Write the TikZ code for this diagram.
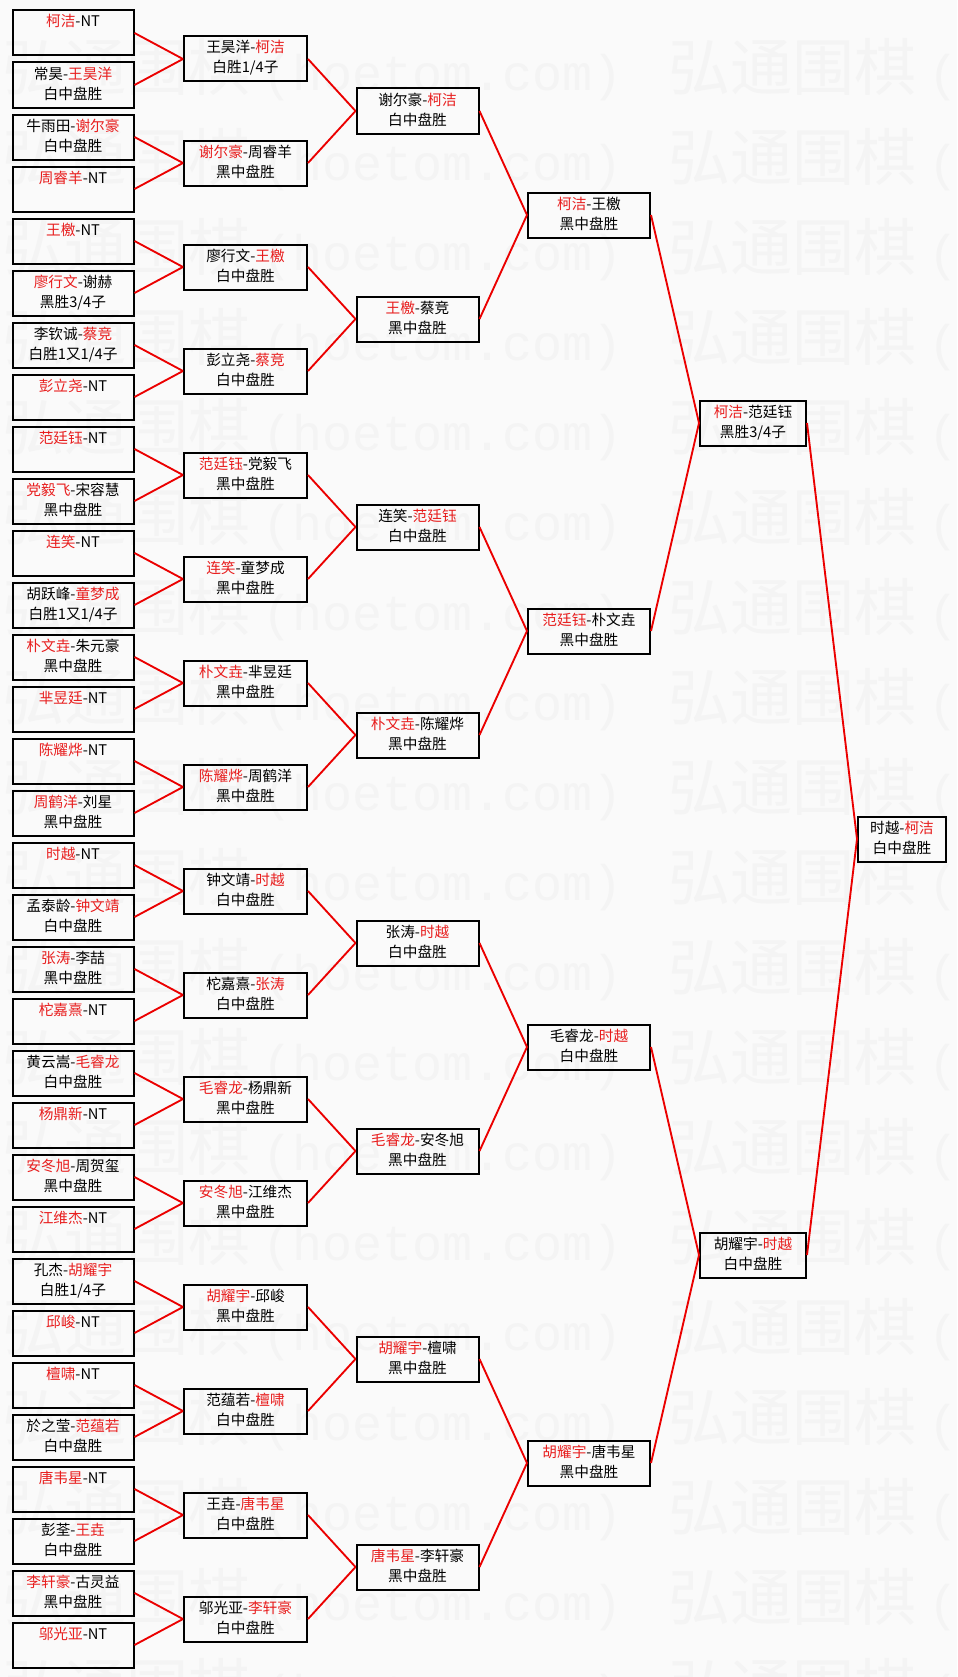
\documentclass[tikz,border=0pt]{standalone}
\usepackage{fontspec}
\setmainfont{Noto Sans CJK SC}
\newfontfamily\wmlatin{Liberation Mono}
\usetikzlibrary{positioning}
\definecolor{paper}{RGB}{250,250,250}
\definecolor{wmgray}{RGB}{244,244,244}
\definecolor{winred}{RGB}{232,30,30}
\definecolor{linkred}{RGB}{235,0,0}
\newcommand\win[1]{\textcolor{winred}{#1}}
\newcommand\res[2]{\strut #1\\\strut #2}
\tikzset{%
  game/.style = {rectangle,draw,line width=1.5pt,minimum height=33.75pt,
        inner sep=0pt,align=center,font=\fontsize{11pt}{15pt}\selectfont},
  g1/.style = {game,minimum width=90.75pt},
  g2/.style = {game,minimum width=92.25pt},
  g3/.style = {game,minimum width=91.5pt},
  g4/.style = {game,minimum width=91.5pt},
  g5/.style = {game,minimum width=79.5pt},
  g6/.style = {game,minimum width=66pt},
  link/.style = {draw=linkred,line width=1.4pt},
  wmcjk/.style = {anchor=base west,inner sep=0pt,text=wmgray,
        font=\fontsize{46.5pt}{46.5pt}\selectfont},
  wmlat/.style = {anchor=base west,inner sep=0pt,text=wmgray,
        font=\wmlatin\fontsize{37.5pt}{37.5pt}\selectfont}
}

\begin{document}
\begin{tikzpicture}[x=0.75pt,y=-0.75pt]
   \useasboundingbox (0,0) rectangle (957,1677);
   \fill[paper] (0,0) rectangle (957,1677);

   \foreach \row in {0,...,18} {
      \node[wmcjk] (wma\row) at (2,{90.5+90*\row}) {弘通围棋};
      \node[wmlat] (wmb\row) at (262,{90.5+90*\row}) {(hoetom.com)};
      \node[wmcjk] (wmc\row) at (668,{90.5+90*\row}) {弘通围棋};
      \node[wmlat] (wmd\row) at (928,{90.5+90*\row}) {(};
   }

   \node[g1] (r1-1) at (73,33) {\res{\win{柯洁}-NT}{}};
   \node[g1] (r1-2) at (73,85) {\res{常昊-\win{王昊洋}}{白中盘胜}};
   \node[g1] (r1-3) at (73,137) {\res{牛雨田-\win{谢尔豪}}{白中盘胜}};
   \node[g1] (r1-4) at (73,189) {\res{\win{周睿羊}-NT}{}};
   \node[g1] (r1-5) at (73,241) {\res{\win{王檄}-NT}{}};
   \node[g1] (r1-6) at (73,293) {\res{\win{廖行文}-谢赫}{黑胜3/4子}};
   \node[g1] (r1-7) at (73,345) {\res{李钦诚-\win{蔡竞}}{白胜1又1/4子}};
   \node[g1] (r1-8) at (73,397) {\res{\win{彭立尧}-NT}{}};
   \node[g1] (r1-9) at (73,449) {\res{\win{范廷钰}-NT}{}};
   \node[g1] (r1-10) at (73,501) {\res{\win{党毅飞}-宋容慧}{黑中盘胜}};
   \node[g1] (r1-11) at (73,553) {\res{\win{连笑}-NT}{}};
   \node[g1] (r1-12) at (73,605) {\res{胡跃峰-\win{童梦成}}{白胜1又1/4子}};
   \node[g1] (r1-13) at (73,657) {\res{\win{朴文垚}-朱元豪}{黑中盘胜}};
   \node[g1] (r1-14) at (73,709) {\res{\win{芈昱廷}-NT}{}};
   \node[g1] (r1-15) at (73,761) {\res{\win{陈耀烨}-NT}{}};
   \node[g1] (r1-16) at (73,813) {\res{\win{周鹤洋}-刘星}{黑中盘胜}};
   \node[g1] (r1-17) at (73,865) {\res{\win{时越}-NT}{}};
   \node[g1] (r1-18) at (73,917) {\res{孟泰龄-\win{钟文靖}}{白中盘胜}};
   \node[g1] (r1-19) at (73,969) {\res{\win{张涛}-李喆}{黑中盘胜}};
   \node[g1] (r1-20) at (73,1021) {\res{\win{柁嘉熹}-NT}{}};
   \node[g1] (r1-21) at (73,1073) {\res{黄云嵩-\win{毛睿龙}}{白中盘胜}};
   \node[g1] (r1-22) at (73,1125) {\res{\win{杨鼎新}-NT}{}};
   \node[g1] (r1-23) at (73,1177) {\res{\win{安冬旭}-周贺玺}{黑中盘胜}};
   \node[g1] (r1-24) at (73,1229) {\res{\win{江维杰}-NT}{}};
   \node[g1] (r1-25) at (73,1281) {\res{孔杰-\win{胡耀宇}}{白胜1/4子}};
   \node[g1] (r1-26) at (73,1333) {\res{\win{邱峻}-NT}{}};
   \node[g1] (r1-27) at (73,1385) {\res{\win{檀啸}-NT}{}};
   \node[g1] (r1-28) at (73,1437) {\res{於之莹-\win{范蕴若}}{白中盘胜}};
   \node[g1] (r1-29) at (73,1489) {\res{\win{唐韦星}-NT}{}};
   \node[g1] (r1-30) at (73,1541) {\res{彭荃-\win{王垚}}{白中盘胜}};
   \node[g1] (r1-31) at (73,1593) {\res{\win{李轩豪}-古灵益}{黑中盘胜}};
   \node[g1] (r1-32) at (73,1645) {\res{\win{邬光亚}-NT}{}};

   \node[g2] (r2-1) at (245.5,59) {\res{王昊洋-\win{柯洁}}{白胜1/4子}};
   \node[g2] (r2-2) at (245.5,163) {\res{\win{谢尔豪}-周睿羊}{黑中盘胜}};
   \node[g2] (r2-3) at (245.5,267) {\res{廖行文-\win{王檄}}{白中盘胜}};
   \node[g2] (r2-4) at (245.5,371) {\res{彭立尧-\win{蔡竞}}{白中盘胜}};
   \node[g2] (r2-5) at (245.5,475) {\res{\win{范廷钰}-党毅飞}{黑中盘胜}};
   \node[g2] (r2-6) at (245.5,579) {\res{\win{连笑}-童梦成}{黑中盘胜}};
   \node[g2] (r2-7) at (245.5,683) {\res{\win{朴文垚}-芈昱廷}{黑中盘胜}};
   \node[g2] (r2-8) at (245.5,787) {\res{\win{陈耀烨}-周鹤洋}{黑中盘胜}};
   \node[g2] (r2-9) at (245.5,891) {\res{钟文靖-\win{时越}}{白中盘胜}};
   \node[g2] (r2-10) at (245.5,995) {\res{柁嘉熹-\win{张涛}}{白中盘胜}};
   \node[g2] (r2-11) at (245.5,1099) {\res{\win{毛睿龙}-杨鼎新}{黑中盘胜}};
   \node[g2] (r2-12) at (245.5,1203) {\res{\win{安冬旭}-江维杰}{黑中盘胜}};
   \node[g2] (r2-13) at (245.5,1307) {\res{\win{胡耀宇}-邱峻}{黑中盘胜}};
   \node[g2] (r2-14) at (245.5,1411) {\res{范蕴若-\win{檀啸}}{白中盘胜}};
   \node[g2] (r2-15) at (245.5,1515) {\res{王垚-\win{唐韦星}}{白中盘胜}};
   \node[g2] (r2-16) at (245.5,1619) {\res{邬光亚-\win{李轩豪}}{白中盘胜}};

   \node[g3] (r3-1) at (417.5,111) {\res{谢尔豪-\win{柯洁}}{白中盘胜}};
   \node[g3] (r3-2) at (417.5,319) {\res{\win{王檄}-蔡竞}{黑中盘胜}};
   \node[g3] (r3-3) at (417.5,527) {\res{连笑-\win{范廷钰}}{白中盘胜}};
   \node[g3] (r3-4) at (417.5,735) {\res{\win{朴文垚}-陈耀烨}{黑中盘胜}};
   \node[g3] (r3-5) at (417.5,943) {\res{张涛-\win{时越}}{白中盘胜}};
   \node[g3] (r3-6) at (417.5,1151) {\res{\win{毛睿龙}-安冬旭}{黑中盘胜}};
   \node[g3] (r3-7) at (417.5,1359) {\res{\win{胡耀宇}-檀啸}{黑中盘胜}};
   \node[g3] (r3-8) at (417.5,1567) {\res{\win{唐韦星}-李轩豪}{黑中盘胜}};

   \node[g4] (r4-1) at (589,215) {\res{\win{柯洁}-王檄}{黑中盘胜}};
   \node[g4] (r4-2) at (589,631) {\res{\win{范廷钰}-朴文垚}{黑中盘胜}};
   \node[g4] (r4-3) at (589,1047) {\res{毛睿龙-\win{时越}}{白中盘胜}};
   \node[g4] (r4-4) at (589,1463) {\res{\win{胡耀宇}-唐韦星}{黑中盘胜}};

   \node[g5] (r5-1) at (753,423) {\res{\win{柯洁}-范廷钰}{黑胜3/4子}};
   \node[g5] (r5-2) at (753,1255) {\res{胡耀宇-\win{时越}}{白中盘胜}};

   \node[g6] (r6-1) at (902,839) {\res{时越-\win{柯洁}}{白中盘胜}};

   \draw[link] (r1-1.east) -- (r2-1.west);
   \draw[link] (r1-2.east) -- (r2-1.west);
   \draw[link] (r1-3.east) -- (r2-2.west);
   \draw[link] (r1-4.east) -- (r2-2.west);
   \draw[link] (r1-5.east) -- (r2-3.west);
   \draw[link] (r1-6.east) -- (r2-3.west);
   \draw[link] (r1-7.east) -- (r2-4.west);
   \draw[link] (r1-8.east) -- (r2-4.west);
   \draw[link] (r1-9.east) -- (r2-5.west);
   \draw[link] (r1-10.east) -- (r2-5.west);
   \draw[link] (r1-11.east) -- (r2-6.west);
   \draw[link] (r1-12.east) -- (r2-6.west);
   \draw[link] (r1-13.east) -- (r2-7.west);
   \draw[link] (r1-14.east) -- (r2-7.west);
   \draw[link] (r1-15.east) -- (r2-8.west);
   \draw[link] (r1-16.east) -- (r2-8.west);
   \draw[link] (r1-17.east) -- (r2-9.west);
   \draw[link] (r1-18.east) -- (r2-9.west);
   \draw[link] (r1-19.east) -- (r2-10.west);
   \draw[link] (r1-20.east) -- (r2-10.west);
   \draw[link] (r1-21.east) -- (r2-11.west);
   \draw[link] (r1-22.east) -- (r2-11.west);
   \draw[link] (r1-23.east) -- (r2-12.west);
   \draw[link] (r1-24.east) -- (r2-12.west);
   \draw[link] (r1-25.east) -- (r2-13.west);
   \draw[link] (r1-26.east) -- (r2-13.west);
   \draw[link] (r1-27.east) -- (r2-14.west);
   \draw[link] (r1-28.east) -- (r2-14.west);
   \draw[link] (r1-29.east) -- (r2-15.west);
   \draw[link] (r1-30.east) -- (r2-15.west);
   \draw[link] (r1-31.east) -- (r2-16.west);
   \draw[link] (r1-32.east) -- (r2-16.west);

   \draw[link] (r2-1.east) -- (r3-1.west);
   \draw[link] (r2-2.east) -- (r3-1.west);
   \draw[link] (r2-3.east) -- (r3-2.west);
   \draw[link] (r2-4.east) -- (r3-2.west);
   \draw[link] (r2-5.east) -- (r3-3.west);
   \draw[link] (r2-6.east) -- (r3-3.west);
   \draw[link] (r2-7.east) -- (r3-4.west);
   \draw[link] (r2-8.east) -- (r3-4.west);
   \draw[link] (r2-9.east) -- (r3-5.west);
   \draw[link] (r2-10.east) -- (r3-5.west);
   \draw[link] (r2-11.east) -- (r3-6.west);
   \draw[link] (r2-12.east) -- (r3-6.west);
   \draw[link] (r2-13.east) -- (r3-7.west);
   \draw[link] (r2-14.east) -- (r3-7.west);
   \draw[link] (r2-15.east) -- (r3-8.west);
   \draw[link] (r2-16.east) -- (r3-8.west);

   \draw[link] (r3-1.east) -- (r4-1.west);
   \draw[link] (r3-2.east) -- (r4-1.west);
   \draw[link] (r3-3.east) -- (r4-2.west);
   \draw[link] (r3-4.east) -- (r4-2.west);
   \draw[link] (r3-5.east) -- (r4-3.west);
   \draw[link] (r3-6.east) -- (r4-3.west);
   \draw[link] (r3-7.east) -- (r4-4.west);
   \draw[link] (r3-8.east) -- (r4-4.west);

   \draw[link] (r4-1.east) -- (r5-1.west);
   \draw[link] (r4-2.east) -- (r5-1.west);
   \draw[link] (r4-3.east) -- (r5-2.west);
   \draw[link] (r4-4.east) -- (r5-2.west);

   \draw[link] (r5-1.east) -- (r6-1.west);
   \draw[link] (r5-2.east) -- (r6-1.west);
\end{tikzpicture}
\end{document}
